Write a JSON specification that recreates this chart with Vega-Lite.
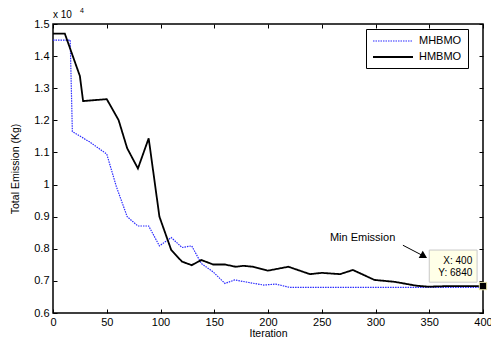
{
  "$schema": "https://vega.github.io/schema/vega-lite/v6.json",
  "width": 430,
  "height": 289,
  "autosize": {"type": "none"},
  "padding": {"left": 53, "top": 24, "right": 8, "bottom": 32},
  "background": "white",
  "config": {
    "font": "Liberation Sans",
    "view": {"stroke": "black", "strokeWidth": 1.5},
    "axis": {"grid": false, "domain": false, "tickColor": "black", "labelColor": "black", "titleColor": "black", "labelFont": "Liberation Sans", "titleFont": "Liberation Sans", "labelFontSize": 11, "titleFontSize": 10.5, "titleFontWeight": "normal", "tickSize": -4, "tickWidth": 1}
  },
  "datasets": {
    "series": [
      {"Iteration": 0, "Emission": 14500, "Method": "MHBMO"},
      {"Iteration": 16, "Emission": 14500, "Method": "MHBMO"},
      {"Iteration": 18, "Emission": 11650, "Method": "MHBMO"},
      {"Iteration": 34, "Emission": 11330, "Method": "MHBMO"},
      {"Iteration": 50, "Emission": 10950, "Method": "MHBMO"},
      {"Iteration": 59, "Emission": 9930, "Method": "MHBMO"},
      {"Iteration": 69, "Emission": 9000, "Method": "MHBMO"},
      {"Iteration": 79, "Emission": 8710, "Method": "MHBMO"},
      {"Iteration": 89, "Emission": 8710, "Method": "MHBMO"},
      {"Iteration": 99, "Emission": 8090, "Method": "MHBMO"},
      {"Iteration": 110, "Emission": 8350, "Method": "MHBMO"},
      {"Iteration": 120, "Emission": 8040, "Method": "MHBMO"},
      {"Iteration": 129, "Emission": 8090, "Method": "MHBMO"},
      {"Iteration": 138, "Emission": 7540, "Method": "MHBMO"},
      {"Iteration": 149, "Emission": 7280, "Method": "MHBMO"},
      {"Iteration": 160, "Emission": 6920, "Method": "MHBMO"},
      {"Iteration": 169, "Emission": 7030, "Method": "MHBMO"},
      {"Iteration": 182, "Emission": 6950, "Method": "MHBMO"},
      {"Iteration": 196, "Emission": 6870, "Method": "MHBMO"},
      {"Iteration": 207, "Emission": 6900, "Method": "MHBMO"},
      {"Iteration": 220, "Emission": 6800, "Method": "MHBMO"},
      {"Iteration": 300, "Emission": 6800, "Method": "MHBMO"},
      {"Iteration": 400, "Emission": 6800, "Method": "MHBMO"},
      {"Iteration": 0, "Emission": 14700, "Method": "HMBMO"},
      {"Iteration": 11, "Emission": 14700, "Method": "HMBMO"},
      {"Iteration": 25, "Emission": 13380, "Method": "HMBMO"},
      {"Iteration": 28, "Emission": 12600, "Method": "HMBMO"},
      {"Iteration": 50, "Emission": 12660, "Method": "HMBMO"},
      {"Iteration": 61, "Emission": 12010, "Method": "HMBMO"},
      {"Iteration": 69, "Emission": 11130, "Method": "HMBMO"},
      {"Iteration": 79, "Emission": 10500, "Method": "HMBMO"},
      {"Iteration": 89, "Emission": 11440, "Method": "HMBMO"},
      {"Iteration": 99, "Emission": 9000, "Method": "HMBMO"},
      {"Iteration": 110, "Emission": 7960, "Method": "HMBMO"},
      {"Iteration": 120, "Emission": 7600, "Method": "HMBMO"},
      {"Iteration": 129, "Emission": 7490, "Method": "HMBMO"},
      {"Iteration": 138, "Emission": 7650, "Method": "HMBMO"},
      {"Iteration": 149, "Emission": 7510, "Method": "HMBMO"},
      {"Iteration": 160, "Emission": 7510, "Method": "HMBMO"},
      {"Iteration": 170, "Emission": 7440, "Method": "HMBMO"},
      {"Iteration": 177, "Emission": 7470, "Method": "HMBMO"},
      {"Iteration": 186, "Emission": 7440, "Method": "HMBMO"},
      {"Iteration": 200, "Emission": 7320, "Method": "HMBMO"},
      {"Iteration": 219, "Emission": 7440, "Method": "HMBMO"},
      {"Iteration": 239, "Emission": 7210, "Method": "HMBMO"},
      {"Iteration": 250, "Emission": 7250, "Method": "HMBMO"},
      {"Iteration": 267, "Emission": 7210, "Method": "HMBMO"},
      {"Iteration": 279, "Emission": 7340, "Method": "HMBMO"},
      {"Iteration": 299, "Emission": 7030, "Method": "HMBMO"},
      {"Iteration": 318, "Emission": 6970, "Method": "HMBMO"},
      {"Iteration": 338, "Emission": 6850, "Method": "HMBMO"},
      {"Iteration": 349, "Emission": 6820, "Method": "HMBMO"},
      {"Iteration": 370, "Emission": 6840, "Method": "HMBMO"},
      {"Iteration": 400, "Emission": 6840, "Method": "HMBMO"}
    ]
  },
  "resolve": {"axis": {"x": "independent", "y": "independent"}},
  "layer": [
    {
      "data": {"name": "series"},
      "mark": {"type": "line", "clip": false},
      "encoding": {
        "x": {"field": "Iteration", "type": "quantitative", "scale": {"domain": [0, 400], "nice": false}, "axis": {"title": "Iteration", "values": [0,50,100,150,200,250,300,350,400], "labelPadding": 7, "titlePadding": 1, "labelFlush": false}},
        "y": {"field": "Emission", "type": "quantitative", "scale": {"domain": [6000, 15000], "nice": false, "zero": false}, "axis": {"title": "Total Emission (Kg)", "values": [6000,7000,8000,9000,10000,11000,12000,13000,14000,15000], "labelExpr": "format(datum.value/10000, '.1~f')", "labelPadding": 8, "titlePadding": 13}},
        "color": {"field": "Method", "type": "nominal", "scale": {"domain": ["MHBMO", "HMBMO"], "range": ["#2b2bff", "#000000"]}, "legend": {"title": null, "orient": "none", "legendX": 313, "legendY": 5, "strokeColor": "black", "fillColor": "white", "padding": 6, "symbolType": "M-1,0H7", "symbolSize": 100, "symbolStrokeWidth": 1.5, "labelFontSize": 11, "labelFont": "Liberation Sans", "labelColor": "black", "rowPadding": 5, "labelOffset": 35}},
        "strokeDash": {"field": "Method", "type": "nominal", "scale": {"domain": ["MHBMO", "HMBMO"], "range": [[1.5, 1], [1, 0]]}, "legend": null},
        "strokeWidth": {"field": "Method", "type": "nominal", "scale": {"domain": ["MHBMO", "HMBMO"], "range": [1.2, 1.8]}, "legend": null}
      }
    },
    {
      "data": {"name": "series"},
      "mark": {"type": "point", "opacity": 0},
      "encoding": {
        "x": {"field": "Iteration", "type": "quantitative", "axis": {"orient": "top", "labels": false, "title": null, "values": [0,50,100,150,200,250,300,350,400]}},
        "y": {"field": "Emission", "type": "quantitative", "axis": {"orient": "right", "labels": false, "title": null, "values": [6000,7000,8000,9000,10000,11000,12000,13000,14000,15000]}}
      }
    },
    {
      "data": {"values": [{"x1": 350, "x2": 394.5, "y1": 6960, "y2": 7960}]},
      "mark": {"type": "rect", "fill": "#ffffe8", "stroke": "#c8c8c8", "strokeWidth": 1},
      "encoding": {
        "x": {"field": "x1", "type": "quantitative", "axis": null},
        "x2": {"field": "x2"},
        "y": {"field": "y1", "type": "quantitative", "axis": null},
        "y2": {"field": "y2"}
      }
    },
    {
      "data": {"values": [{"x": 390, "y": 7630, "t": "X: 400"}, {"x": 390, "y": 7240, "t": "Y: 6840"}]},
      "mark": {"type": "text", "align": "right", "baseline": "middle", "fontSize": 10, "font": "Liberation Sans", "color": "black"},
      "encoding": {
        "x": {"field": "x", "type": "quantitative", "axis": null},
        "y": {"field": "y", "type": "quantitative", "axis": null},
        "text": {"field": "t"}
      }
    },
    {
      "data": {"values": [{"x": 288, "y": 8330, "t": "Min Emission"}]},
      "mark": {"type": "text", "align": "center", "baseline": "middle", "fontSize": 11, "font": "Liberation Sans", "color": "black"},
      "encoding": {
        "x": {"field": "x", "type": "quantitative", "axis": null},
        "y": {"field": "y", "type": "quantitative", "axis": null},
        "text": {"field": "t"}
      }
    },
    {
      "data": {"values": [{"x1": 325.5, "y1": 8110, "x2": 345, "y2": 7770}]},
      "mark": {"type": "rule", "color": "black", "strokeWidth": 1},
      "encoding": {
        "x": {"field": "x1", "type": "quantitative", "axis": null},
        "y": {"field": "y1", "type": "quantitative", "axis": null},
        "x2": {"field": "x2"},
        "y2": {"field": "y2"}
      }
    },
    {
      "data": {"values": [{"x": 345, "y": 7770}]},
      "mark": {"type": "point", "shape": "triangle-right", "filled": true, "color": "black", "size": 70, "angle": 29, "opacity": 1},
      "encoding": {
        "x": {"field": "x", "type": "quantitative", "axis": null},
        "y": {"field": "y", "type": "quantitative", "axis": null}
      }
    },
    {
      "data": {"values": [{"x": 400, "y": 6840}]},
      "mark": {"type": "point", "shape": "square", "filled": true, "fill": "black", "stroke": "#f0ecb0", "strokeWidth": 1, "size": 55, "opacity": 1, "clip": false},
      "encoding": {
        "x": {"field": "x", "type": "quantitative", "axis": null},
        "y": {"field": "y", "type": "quantitative", "axis": null}
      }
    },
    {
      "data": {"values": [{"x": 0, "y": 15280, "t": "x 10"}]},
      "mark": {"type": "text", "align": "left", "baseline": "middle", "fontSize": 10, "font": "Liberation Sans", "color": "black"},
      "encoding": {
        "x": {"field": "x", "type": "quantitative", "axis": null},
        "y": {"field": "y", "type": "quantitative", "axis": null},
        "text": {"field": "t"}
      }
    },
    {
      "data": {"values": [{"x": 25, "y": 15390, "t": "4"}]},
      "mark": {"type": "text", "align": "left", "baseline": "middle", "fontSize": 7, "font": "Liberation Sans", "color": "black"},
      "encoding": {
        "x": {"field": "x", "type": "quantitative", "axis": null},
        "y": {"field": "y", "type": "quantitative", "axis": null},
        "text": {"field": "t"}
      }
    }
  ]
}
